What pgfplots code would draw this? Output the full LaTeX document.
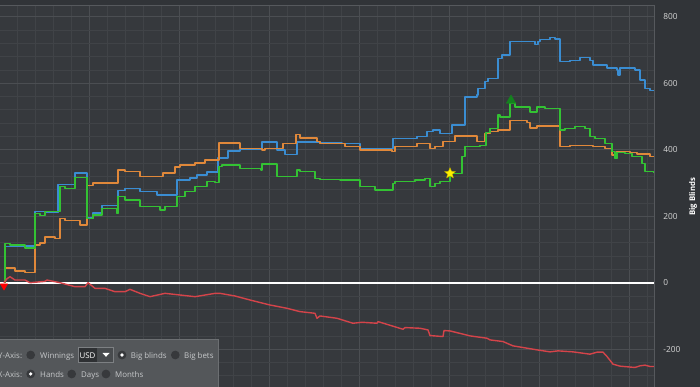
\documentclass[border=0pt]{standalone}
\usepackage{fontspec}
\setmainfont{Open Sans}
\usepackage{pgfplots}
\pgfplotsset{compat=1.18}
\definecolor{bgout}{HTML}{313438}
\definecolor{bgplot}{HTML}{36393D}
\definecolor{gridmin}{HTML}{404347}
\definecolor{gridmaj}{HTML}{4B4E52}
\definecolor{bordercol}{HTML}{56595D}
\definecolor{cblue}{HTML}{3A8DD2}
\definecolor{corange}{HTML}{E0883A}
\definecolor{cgreen}{HTML}{33C233}
\definecolor{cred}{HTML}{D4444A}
\definecolor{panel}{HTML}{54575A}
\definecolor{panelborder}{HTML}{6C6F72}
\definecolor{paneltext}{HTML}{C6C8CA}
\definecolor{radio}{HTML}{37393C}
\definecolor{ticktext}{HTML}{D6D6D6}
\definecolor{usdbg}{HTML}{2E3033}
\definecolor{usdbtn}{HTML}{484B4E}
\definecolor{usdborder}{HTML}{7D8083}
\definecolor{tridgreen}{HTML}{14821E}
\definecolor{staryellow}{HTML}{FFF000}
\definecolor{staredge}{HTML}{AAA000}
\pgfdeclareplotmark{fstar}{%
  \pgfpathmoveto{\pgfpointpolar{90}{\pgfplotmarksize}}%
  \pgfpathlineto{\pgfpointpolar{126}{0.45\pgfplotmarksize}}%
  \pgfpathlineto{\pgfpointpolar{162}{\pgfplotmarksize}}%
  \pgfpathlineto{\pgfpointpolar{198}{0.45\pgfplotmarksize}}%
  \pgfpathlineto{\pgfpointpolar{234}{\pgfplotmarksize}}%
  \pgfpathlineto{\pgfpointpolar{270}{0.45\pgfplotmarksize}}%
  \pgfpathlineto{\pgfpointpolar{306}{\pgfplotmarksize}}%
  \pgfpathlineto{\pgfpointpolar{342}{0.45\pgfplotmarksize}}%
  \pgfpathlineto{\pgfpointpolar{18}{\pgfplotmarksize}}%
  \pgfpathlineto{\pgfpointpolar{54}{0.45\pgfplotmarksize}}%
  \pgfpathclose
  \pgfusepathqfillstroke
}
\begin{document}
\begin{tikzpicture}[x=1pt,y=1pt]
\fill[bgout] (0,0) rectangle (700,387);
\path[use as bounding box] (0,0) rectangle (700,387);
\begin{axis}[
  at={(0pt,0pt)}, anchor=south west,
  scale only axis, width=654pt, height=381.3pt,
  xmin=0, xmax=654, ymin=-313.7, ymax=833.2,
  axis background/.style={fill=bgplot},
  axis line style={draw=none},
  xtick={89.3,179.3,269.3,359.3,449.3,539.3,629.3},
  minor xtick={17.3,35.3,...,647.3},
  xticklabels={},
  ytick={-200,0,200,400,600,800},
  yticklabels={-200,0,200,400,600,800},
  minor ytick={-280,-240,...,820},
  yticklabel pos=right,
  major tick length=0pt, minor tick length=0pt,
  tick style={draw=none},
  yticklabel style={font=\fontsize{8.3}{10}\selectfont, text=ticktext, anchor=west, xshift=5.8pt},
  grid=both,
  major grid style={color=gridmaj, line width=0.9pt},
  minor grid style={color=gridmin, line width=0.7pt},
  every axis plot/.append style={line join=round},
]
\addplot[white, line width=1.9pt] coordinates {(0,0)(654,0)};
\addplot[cblue, line width=1.4pt, const plot, mark=none] coordinates {
(4,0)(5,108)(20,110)(35,215)(45,212)(58,296)(75,330)(87,195)(93,210)(102,233)(118,277)(125,283)(140,275)(157,264)(177,309)(190,315)(197,324)(207,333)(218,375)(228,396)(240,400)(262,423)(277,399)(285,386)(297,423)(320,420)(342,418)(360,404)(393,434)(417,440)(427,455)(433,459)(440,449)(452,474)(465,559)(477,565)(478,585)(485,605)(488,615)(498,675)(502,685)(510,725)(533,725)(535,716)(538,725)(540,732)(550,737)(555,733)(560,665)(570,668)(580,678)(590,668)(593,655)(607,646)(617,640)(618,625)(620,646)(635,640)(640,610)(645,585)(650,579)(654,579)};
\addplot[corange, line width=1.4pt, const plot, mark=none] coordinates {
(4,0)(5,44)(15,35)(25,30)(35,113)(40,119)(45,138)(55,133)(60,194)(65,188)(80,173)(87,293)(93,300)(118,339)(125,334)(140,319)(163,330)(175,348)(180,354)(195,360)(205,369)(215,369)(219,420)(240,404)(262,399)(265,404)(283,419)(296,446)(300,435)(317,424)(320,419)(345,409)(360,399)(392,394)(395,409)(417,419)(430,404)(435,409)(443,424)(455,441)(477,424)(485,449)(490,454)(498,459)(510,487)(527,481)(530,465)(537,471)(560,409)(570,412)(593,409)(605,404)(612,384)(617,394)(630,392)(637,387)(650,379)(654,379)};
\addplot[cgreen, line width=1.4pt, const plot, mark=none] coordinates {
(4,0)(5,118)(10,113)(25,104)(35,209)(40,202)(45,214)(60,289)(65,284)(75,316)(87,194)(93,204)(102,224)(117,209)(118,259)(125,249)(140,229)(160,219)(165,229)(177,259)(185,274)(195,289)(207,304)(215,302)(219,349)(222,354)(240,344)(261,339)(262,357)(277,319)(297,339)(300,334)(315,314)(320,311)(340,309)(360,289)(375,279)(393,299)(395,304)(415,309)(425,314)(430,289)(435,299)(440,304)(450,329)(462,379)(465,409)(480,412)(486,451)(490,464)(498,504)(500,499)(510,540)(515,528)(530,514)(537,528)(545,524)(560,459)(565,464)(575,469)(585,464)(590,439)(595,434)(605,419)(612,394)(615,374)(617,392)(625,389)(632,379)(642,359)(645,334)(654,330)};
\addplot[cred, line width=1.4pt, sharp plot, mark=none] coordinates {
(4,0)(7,12)(10,18)(15,8)(25,8)(30,0)(45,4)(47,8)(60,0)(75,-12)(85,-12)(88,0)(95,-17)(105,-17)(115,-27)(125,-27)(130,-20)(140,-32)(150,-42)(165,-32)(180,-37)(195,-42)(215,-32)(220,-32)(235,-40)(250,-52)(270,-67)(287,-77)(300,-87)(315,-92)(317,-107)(320,-100)(337,-107)(353,-122)(362,-119)(377,-122)(378,-117)(403,-140)(405,-135)(420,-137)(428,-142)(430,-159)(443,-162)(444,-144)(450,-145)(470,-160)(487,-167)(490,-172)(503,-177)(513,-190)(527,-197)(537,-202)(550,-208)(558,-205)(573,-208)(590,-215)(597,-209)(603,-209)(607,-222)(613,-245)(620,-251)(635,-255)(640,-250)(645,-248)(650,-252)(654,-252)};
\addplot[only marks, mark=triangle*, mark size=4.2pt, mark options={rotate=180, fill=red, draw=red}] coordinates {(4,-10)};
\addplot[only marks, mark=triangle*, mark size=5.5pt, mark options={fill=tridgreen, draw=tridgreen}] coordinates {(511,548)};
\addplot[only marks, mark=fstar, mark size=5.8pt, mark options={fill=staryellow, draw=staredge, line width=0.4pt}] coordinates {(450,329)};
\end{axis}
\draw[bordercol, line width=0.9pt] (0,381.3) -- (654,381.3) -- (654,0);
\node[rotate=90, text=white, font=\fontsize{7.8}{9}\selectfont\bfseries] at (693,190) {Big Blinds};
% control panel
\fill[panel] (-2,-2) rectangle (218.3,47.7);
\draw[panelborder, line width=0.8pt] (-2,47.7) -- (218.3,47.7) -- (218.3,-2);
\begin{scope}[every node/.style={inner sep=0pt, text=paneltext, font=\fontsize{7.9}{9}\selectfont}]
\node[anchor=base east] at (22.3,28.7) {Y-Axis:};
\fill[radio] (30.7,32) circle (4.4);
\node[anchor=base west] at (40,28.7) {Winnings};
\fill[usdbg] (78.3,24.7) rectangle (96.7,39.7);
\fill[usdbtn] (96.7,24.7) rectangle (113.3,39.7);
\draw[usdborder, line width=0.7pt] (78.3,24.7) rectangle (113.3,39.7);
\node[anchor=base, text=white] at (87.5,28.7) {USD};
\fill[white] (102.5,34) -- (109.5,34) -- (106,30.2) -- cycle;
\fill[radio] (122,32) circle (4.4);
\fill[white] (122,32) circle (1.8);
\node[anchor=base west] at (130.7,28.7) {Big blinds};
\fill[radio] (175.3,32) circle (4.4);
\node[anchor=base west] at (184,28.7) {Big bets};
\node[anchor=base east] at (22.3,9.7) {X-Axis:};
\fill[radio] (30.7,13) circle (4.4);
\fill[white] (30.7,13) circle (1.8);
\node[anchor=base west] at (40,9.7) {Hands};
\fill[radio] (71.7,13) circle (4.4);
\node[anchor=base west] at (81,9.7) {Days};
\fill[radio] (106,13) circle (4.4);
\node[anchor=base west] at (115,9.7) {Months};
\end{scope}
\end{tikzpicture}
\end{document}
